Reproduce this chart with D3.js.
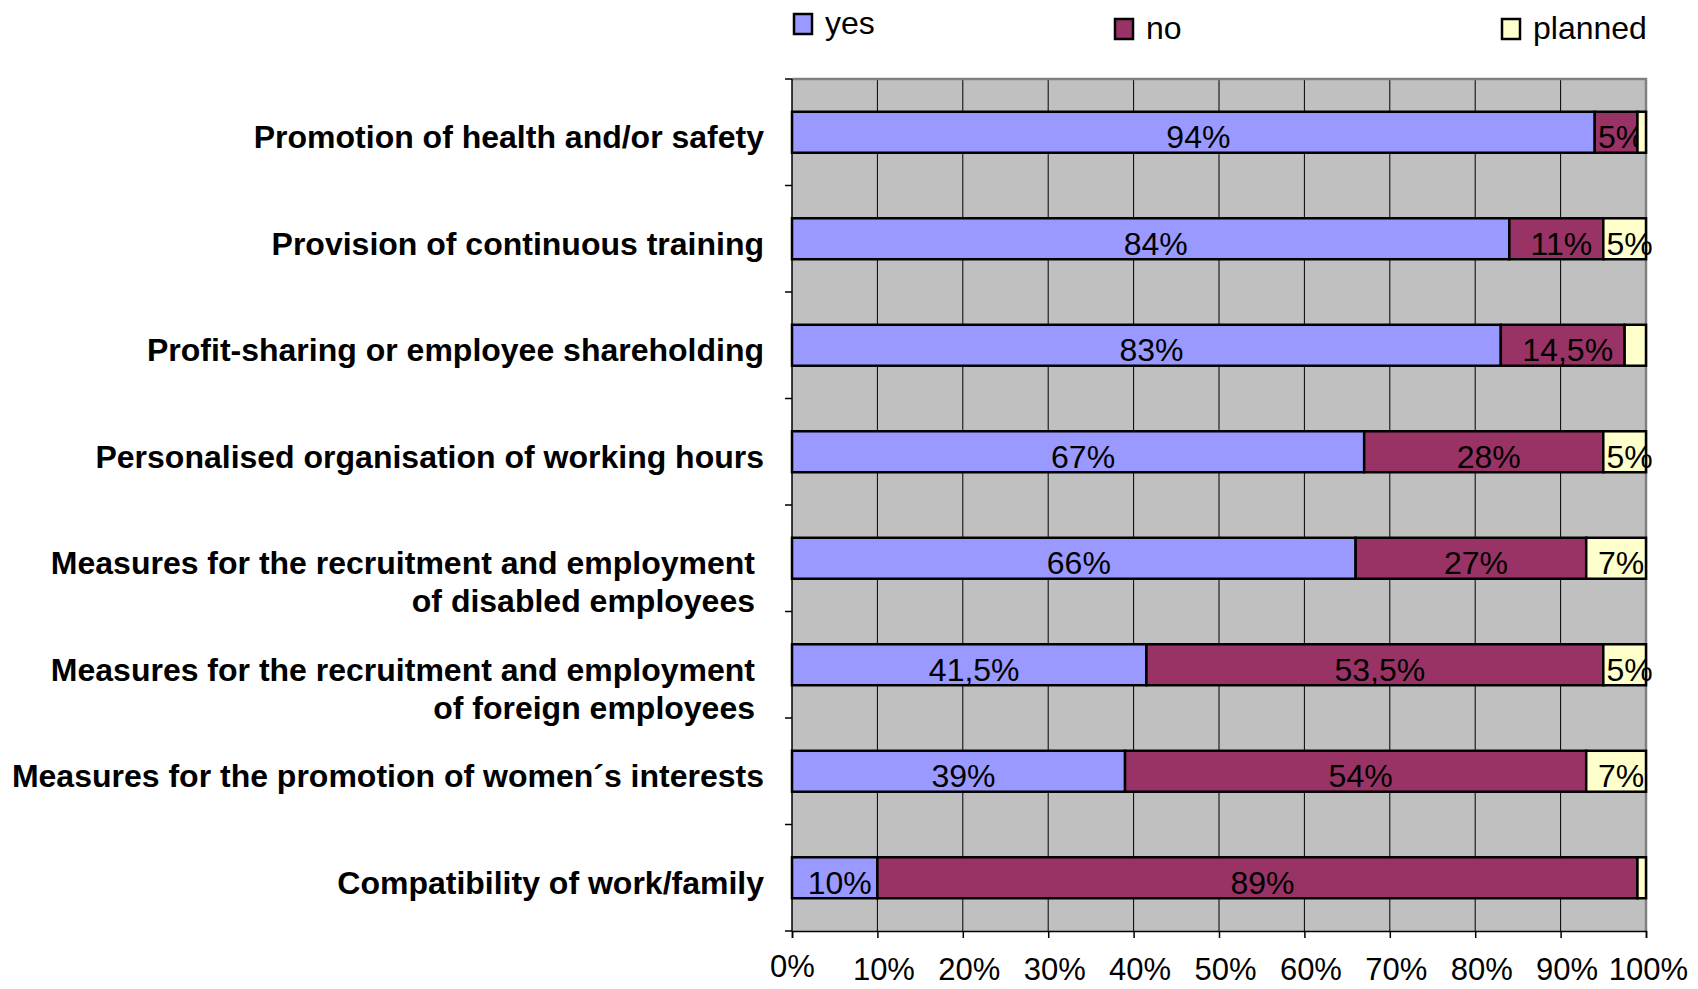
<!DOCTYPE html>
<html>
<head>
<meta charset="utf-8">
<script src="https://cdn.jsdelivr.net/npm/d3@7"></script>
<style>
  body { margin: 0; background: #fff; }
  text { font-family: Arial, "Liberation Sans", sans-serif; fill: #000; }
</style>
</head>
<body>
<div id="chart"></div>
<script>
// Chart data
const categories = [
  'Promotion of health and/or safety',
  'Provision of continuous training',
  'Profit-sharing or employee shareholding',
  'Personalised organisation of working hours',
  'Measures for the recruitment and employment\nof disabled employees',
  'Measures for the recruitment and employment\nof foreign employees',
  'Measures for the promotion of women\u00b4s interests',
  'Compatibility of work/family'
];
const yesValues = [94, 84, 83, 67, 66, 41.5, 39, 10];
const noValues = [5, 11, 14.5, 28, 27, 53.5, 54, 89];
const plannedValues = [1, 5, 2.5, 5, 7, 5, 7, 1];
const seriesNames = ['yes', 'no', 'planned'];
const seriesColors = ['#9999FF', '#993366', '#FFFFCC'];
const xTicks = [0, 10, 20, 30, 40, 50, 60, 70, 80, 90, 100];

const width = 1698;
const height = 989;
const margin = { top: 79, right: 52, bottom: 58, left: 792 };

const svg = d3.select('#chart').append('svg')
  .attr('width', width)
  .attr('height', height);

const rows = categories.map((c, i) => ({
  category: c,
  yes: yesValues[i],
  no: noValues[i],
  planned: plannedValues[i]
}));

const x = d3.scaleLinear()
  .domain([0, 100])
  .range([margin.left, width - margin.right]);

// Excel-like gap width of 160%
const gap = 1.6 / 2.6;
const y = d3.scaleBand()
  .domain(categories)
  .range([margin.top, height - margin.bottom])
  .paddingInner(gap)
  .paddingOuter(gap / 2);

const color = d3.scaleOrdinal().domain(seriesNames).range(seriesColors);
const fmt = v => String(v).replace('.', ',') + '%';

// Plot background
svg.append('rect')
  .attr('x', x(0))
  .attr('y', margin.top)
  .attr('width', x(100) - x(0))
  .attr('height', height - margin.bottom - margin.top)
  .attr('fill', '#C0C0C0');

// Vertical gridlines
svg.append('g')
  .selectAll('line')
  .data(xTicks.slice(1, -1))
  .join('line')
  .attr('x1', d => x(d)).attr('x2', d => x(d))
  .attr('y1', margin.top).attr('y2', height - margin.bottom)
  .attr('stroke', '#000')
  .attr('stroke-width', 1);

// Plot border (top and right)
svg.append('path')
  .attr('d', `M${x(0)},${margin.top}H${x(100)}V${height - margin.bottom}`)
  .attr('fill', 'none')
  .attr('stroke', '#808080')
  .attr('stroke-width', 2.5);

// Stacked bars
const stack = d3.stack().keys(seriesNames);
const series = stack(rows);

const layers = svg.append('g')
  .selectAll('g')
  .data(series)
  .join('g')
  .attr('fill', d => color(d.key));

layers.selectAll('rect')
  .data(d => d)
  .join('rect')
  .attr('x', d => x(d[0]))
  .attr('y', d => y(d.data.category))
  .attr('width', d => x(d[1]) - x(d[0]))
  .attr('height', y.bandwidth())
  .attr('stroke', '#000')
  .attr('stroke-width', 2.5);

// Data labels (small segments are left unlabelled, as in the original)
layers.selectAll('text')
  .data(d => d.filter(s => s[1] - s[0] >= 4).map(s => ({ s, key: d.key })))
  .join('text')
  .attr('x', d => (x(d.s[0]) + x(d.s[1])) / 2 + 5)
  .attr('y', d => y(d.s.data.category) + y.bandwidth() / 2 + 16)
  .attr('text-anchor', 'middle')
  .attr('font-size', 32)
  .text(d => fmt(d.s[1] - d.s[0]));

// Left axis line and category ticks
svg.append('line')
  .attr('x1', x(0)).attr('x2', x(0))
  .attr('y1', margin.top).attr('y2', height - margin.bottom)
  .attr('stroke', '#000').attr('stroke-width', 1.5);

const step = y.step();
svg.append('g')
  .selectAll('line')
  .data(d3.range(categories.length + 1))
  .join('line')
  .attr('x1', x(0) - 7).attr('x2', x(0))
  .attr('y1', i => margin.top + i * step)
  .attr('y2', i => margin.top + i * step)
  .attr('stroke', '#000').attr('stroke-width', 1.5);

// Category labels
svg.append('g')
  .selectAll('text')
  .data(categories)
  .join('text')
  .attr('text-anchor', 'end')
  .attr('font-size', 32)
  .attr('font-weight', 'bold')
  .each(function (d) {
    const lines = d.split('\n');
    const tx = lines.length > 1 ? x(0) - 37 : x(0) - 28;
    const t = d3.select(this);
    lines.forEach((line, i) => {
      t.append('tspan')
        .attr('x', tx)
        .attr('y', y(d) + y.bandwidth() / 2 + 16 + i * 38)
        .text(line);
    });
  });

// Bottom axis
const xAxis = d3.axisBottom(x)
  .tickValues(xTicks)
  .tickSize(7)
  .tickPadding(20)
  .tickFormat(d => d + '%');

const axisG = svg.append('g')
  .attr('transform', `translate(0,${height - margin.bottom})`)
  .call(xAxis);

axisG.select('.domain').attr('stroke', '#000').attr('stroke-width', 1.5);
axisG.selectAll('.tick line').attr('stroke', '#000').attr('stroke-width', 1.5);
axisG.selectAll('.tick text')
  .attr('font-size', 31)
  .attr('font-family', 'Arial, "Liberation Sans", sans-serif')
  .attr('fill', '#000')
  .attr('dy', d => d === 0 ? '0.62em' : '0.71em')
  .attr('dx', d => d === 0 ? 0 : d === 100 ? 2 : 6);

// Legend
const legendX = [794, 1115, 1502];
const legendY = [14, 19, 19];
const legend = svg.append('g')
  .selectAll('g')
  .data(seriesNames)
  .join('g')
  .attr('transform', (d, i) => `translate(${legendX[i]},${legendY[i]})`);

legend.append('rect')
  .attr('width', 18)
  .attr('height', 20)
  .attr('fill', d => color(d))
  .attr('stroke', '#000')
  .attr('stroke-width', 2.5);

legend.append('text')
  .attr('x', 31)
  .attr('y', 20)
  .attr('font-size', 32)
  .text(d => d);
</script>
</body>
</html>
